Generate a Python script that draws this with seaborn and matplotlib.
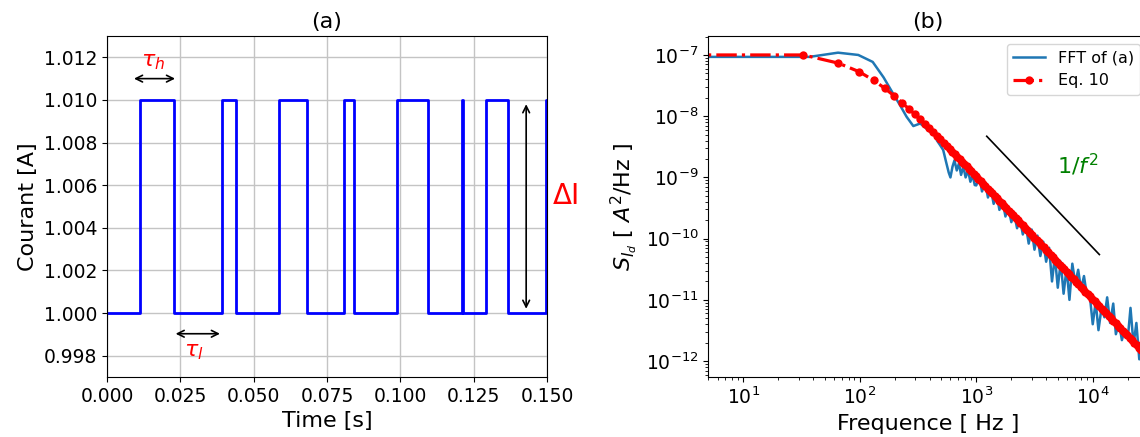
import matplotlib
matplotlib.use("Agg")
import matplotlib.pyplot as plt
import matplotlib.ticker as mticker
import numpy as np
import pandas as pd
import seaborn as sns

# ---------------- data: panel (a) random telegraph signal ----------------
t_switch = [0.0, 0.0113, 0.0227, 0.0391, 0.0440, 0.0586, 0.0681, 0.0809, 0.0843,
            0.0988, 0.1096, 0.1211, 0.1215, 0.1291, 0.1366, 0.1497, 0.1500]
i_level = [1.000, 1.010, 1.000, 1.010, 1.000, 1.010, 1.000, 1.010, 1.000,
           1.010, 1.000, 1.010, 1.000, 1.010, 1.000, 1.010, 1.010]

# ---------------- data: panel (b) spectra ----------------
fft_f = [4, 10, 20, 37, 65, 97, 129, 160, 194, 222, 252, 288, 330, 365, 402, 430,
         460, 490, 520, 550, 580, 600, 625, 650, 680, 710, 740, 775, 810, 850, 890,
         930, 970,
         1000, 1060, 1120, 1190, 1260, 1330, 1410, 1500, 1580, 1680, 1780, 1880,
         2000, 2110, 2240, 2370, 2510, 2660, 2820, 2990, 3160, 3350, 3550, 3760,
         3980, 4220, 4470, 4730, 5010, 5310, 5620, 5960, 6310, 6680, 7080, 7500,
         7940, 8410, 8910, 9440, 10000, 10600, 11200, 11900, 12600, 13300, 14100,
         15000, 15800, 16800, 17800, 18800, 20000, 21100, 22400, 23700, 25100,
         26600, 28200]
fft_S = [9.3e-8, 9.3e-8, 9.3e-8, 9.3e-8, 1.09e-7, 1.0e-7, 7.7e-8, 4.3e-8, 2.3e-8,
         1.5e-8, 9.8e-9, 6.9e-9, 7.6e-9, 6.5e-9, 5.5e-9, 5.9e-9, 4.0e-9, 3.35e-9,
         2.8e-9, 1.8e-9, 1.2e-9, 1.0e-9, 1.5e-9, 1.9e-9, 1.3e-9, 1.7e-9, 1.1e-9,
         1.5e-9, 1.0e-9, 1.3e-9, 8.5e-10, 1.1e-9, 7.5e-10,
         7.4e-10, 1.05e-9, 5.9e-10, 8.3e-10, 4.7e-10, 6.6e-10, 3.7e-10, 5.2e-10,
         2.95e-10, 4.2e-10, 2.3e-10, 3.3e-10, 1.86e-10, 2.6e-10, 1.48e-10, 2.1e-10,
         1.17e-10, 1.66e-10, 8.3e-11, 1.41e-10, 6.6e-11, 1.12e-10, 5.2e-11, 8.9e-11,
         4.2e-11, 7.1e-11, 2.0e-11, 5.2e-11, 1.58e-11, 4.2e-11, 1.26e-11, 3.3e-11,
         1.0e-11, 3.9e-11, 1.86e-11, 3.1e-11, 1.48e-11, 2.45e-11, 1.17e-11, 1.17e-11,
         4.0e-12, 9.3e-12, 3.2e-12, 7.4e-12, 5.2e-12, 1.10e-11, 4.2e-12, 8.7e-12,
         2.75e-12, 4.2e-12, 2.2e-12, 3.3e-12, 2.35e-12, 7.4e-12, 1.86e-12, 4.2e-12,
         1.07e-12, 3.3e-12, 6.6e-13]

eq_f = [3, 32.8, 65.6, 98.4, 131.2, 164, 196.8, 229.6, 262.4, 295.2, 328, 360.8,
        393.6, 426.4, 459.2, 492, 524.8, 557.6, 590.4, 623.2, 656, 688.8,
        720, 754, 790, 827, 866, 907, 950, 994, 1041, 1090, 1142, 1196, 1252, 1311,
        1373, 1437, 1505, 1576, 1650, 1728, 1809, 1895, 1984, 2077, 2175, 2278,
        2385, 2497, 2615, 2738, 2867, 3002, 3144, 3292, 3447, 3609, 3779, 3957,
        4144, 4339, 4543, 4757, 4981, 5216, 5462, 5719, 5988, 6270, 6566, 6875,
        7199, 7538, 7893, 8265, 8654, 9062, 9489, 9936, 10404, 10894, 11407,
        11944, 12507, 13096, 13713, 14359, 15035, 15743, 16485, 17261, 18074,
        18926, 19817, 20750, 21728, 22751, 23823, 24945, 26120, 27350, 28638]
eq_S = [1.0e-7, 1.0e-7, 7.34e-8, 5.34e-8, 3.86e-8, 2.85e-8, 2.15e-8, 1.67e-8,
        1.33e-8, 1.08e-8, 8.93e-9, 7.49e-9, 6.37e-9, 5.47e-9, 4.75e-9, 4.17e-9,
        3.68e-9, 3.27e-9, 2.93e-9, 2.64e-9, 2.38e-9, 2.17e-9,
        1.99e-9, 1.81e-9, 1.65e-9, 1.51e-9, 1.37e-9, 1.25e-9, 1.14e-9, 1.04e-9,
        9.50e-10, 8.67e-10, 7.91e-10, 7.21e-10, 6.58e-10, 6.00e-10, 5.47e-10,
        4.99e-10, 4.55e-10, 4.15e-10, 3.78e-10, 3.45e-10, 3.15e-10, 2.87e-10,
        2.62e-10, 2.39e-10, 2.18e-10, 1.99e-10, 1.81e-10, 1.65e-10, 1.51e-10,
        1.37e-10, 1.25e-10, 1.14e-10, 1.04e-10,
        9.50e-11, 8.67e-11, 7.91e-11, 7.21e-11, 6.58e-11, 6.00e-11, 5.47e-11,
        4.99e-11, 4.55e-11, 4.15e-11, 3.78e-11, 3.45e-11, 3.15e-11, 2.87e-11,
        2.62e-11, 2.39e-11, 2.18e-11, 1.99e-11, 1.81e-11, 1.65e-11, 1.51e-11,
        1.37e-11, 1.25e-11, 1.14e-11, 1.04e-11,
        9.50e-12, 8.67e-12, 7.91e-12, 7.21e-12, 6.58e-12, 6.00e-12, 5.47e-12,
        4.99e-12, 4.55e-12, 4.15e-12, 3.78e-12, 3.45e-12, 3.15e-12, 2.87e-12,
        2.62e-12, 2.39e-12, 2.18e-12, 1.99e-12, 1.81e-12, 1.65e-12, 1.51e-12,
        1.37e-12, 1.25e-12]

slope_f = [1230, 11400]
slope_S = [4.7e-9, 5.5e-11]

# ---------------- figure ----------------
TICK = 13.5
LAB = 16

fig = plt.figure(figsize=(11.4, 4.37), dpi=100)
W, H = 1140, 437
ax1 = fig.add_axes([107 / W, 1 - 377 / H, 440 / W, 341 / H])
ax2 = fig.add_axes([708.3 / W, 1 - 377 / H, 440 / W, 341 / H])

# ---- panel (a)
df_a = pd.DataFrame({"t": t_switch, "I": i_level})
sns.lineplot(data=df_a, x="t", y="I", ax=ax1, color="blue", lw=2,
             drawstyle="steps-post", sort=False, legend=False)
ax1.set_xlim(0, 0.15)
ax1.set_ylim(0.997, 1.013)
ax1.set_xticks(np.arange(0, 0.1501, 0.025))
ax1.set_yticks(np.arange(0.998, 1.0121, 0.002))
ax1.xaxis.set_major_formatter(mticker.FormatStrFormatter("%.3f"))
ax1.yaxis.set_major_formatter(mticker.FormatStrFormatter("%.3f"))
ax1.grid(True, color="#c4c4c4", lw=1.0)
ax1.set_axisbelow(True)
ax1.tick_params(labelsize=TICK)
ax1.set_xlabel("Time [s]", fontsize=LAB)
ax1.set_ylabel("Courant [A]", fontsize=LAB)
ax1.set_title("(a)", fontsize=LAB)

arr = dict(arrowstyle="<->", color="black", lw=1.2, shrinkA=0, shrinkB=0,
           mutation_scale=12)
ax1.annotate("", xy=(0.0092, 1.0110), xytext=(0.0232, 1.0110), arrowprops=arr)
ax1.text(0.0157, 1.01177, r"$\tau_h$", color="red", fontsize=16,
         ha="center", va="center")
ax1.annotate("", xy=(0.0234, 0.99903), xytext=(0.0385, 0.99903), arrowprops=arr)
ax1.text(0.0297, 0.99815, r"$\tau_l$", color="red", fontsize=16,
         ha="center", va="center")
ax1.annotate("", xy=(0.1429, 1.0002), xytext=(0.1429, 1.0098), arrowprops=arr)
ax1.text(0.1521, 1.0055, "ΔI", color="red", fontsize=20, ha="left",
         va="center", clip_on=False)

# ---- panel (b)
ax2.set_xscale("log")
ax2.set_yscale("log")
df_fft = pd.DataFrame({"f": fft_f, "S": fft_S})
df_eq = pd.DataFrame({"f": eq_f, "S": eq_S})
df_sl = pd.DataFrame({"f": slope_f, "S": slope_S})
sns.lineplot(data=df_fft, x="f", y="S", ax=ax2, color="#1f77b4", lw=1.8,
             sort=False, label="FFT of (a)")
sns.lineplot(data=df_eq, x="f", y="S", ax=ax2, color="red", lw=2.3,
             linestyle="-.", marker="o", markersize=6, markeredgewidth=0,
             sort=False, label="Eq. 10")
sns.lineplot(data=df_sl, x="f", y="S", ax=ax2, color="black", lw=1.2,
             sort=False, legend=False)
ax2.text(7400, 1.6e-9, r"$1/f^2$", color="green", fontsize=16,
         ha="center", va="center")
ax2.set_xlim(5, 3.0e4)
ax2.set_ylim(5.5e-13, 2.04e-7)
ax2.tick_params(labelsize=TICK)
ax2.set_xlabel("Frequence [ Hz ]", fontsize=LAB)
ax2.set_ylabel(r"$S_{I_d}$ [ $A^2$/Hz ]", fontsize=LAB)
ax2.set_title("(b)", fontsize=LAB)
ax2.legend(loc="upper right", fontsize=11.5)

fig.savefig("out.png", dpi=100)
